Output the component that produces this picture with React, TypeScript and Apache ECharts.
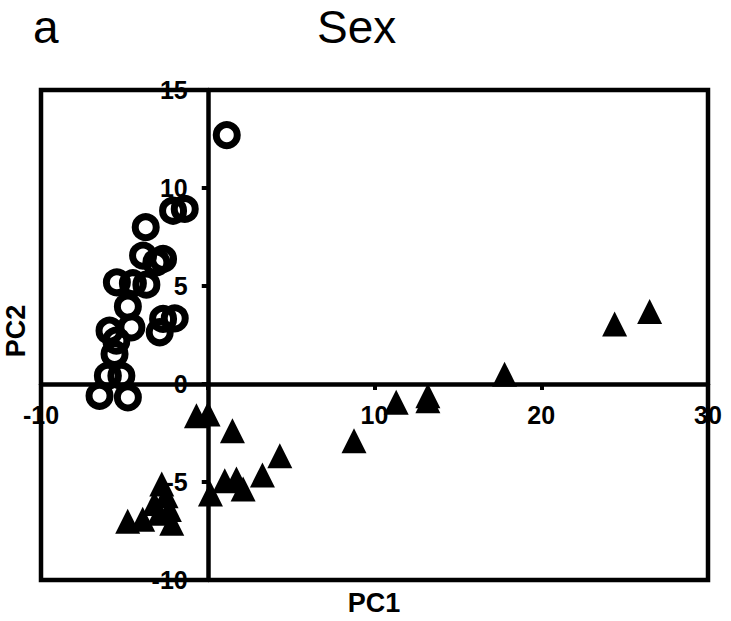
import React, { useEffect, useRef } from "react";
import * as echarts from "echarts";

const panelLabel = "a";
const chartTitle = "Sex";
const xName = "PC1";
const yName = "PC2";

const xTicks = { min: -10, max: 30, interval: 10 };
const yTicks = { min: -10, max: 15, interval: 5 };

// Hollow circles (one sex)
const circleX = [1.14, -1.38, -2.08, -3.72, -3.88, -2.68, -3.08, -5.45, -4.49, -3.68, -4.79, -2.68, -1.98, -2.88, -4.58, -5.89, -5.48, -5.59, -5.99, -5.18, -6.49, -4.79];
const circleY = [12.7, 8.93, 8.84, 8.0, 6.55, 6.38, 6.2, 5.19, 5.14, 5.07, 3.95, 3.32, 3.35, 2.64, 2.89, 2.72, 2.21, 1.53, 0.42, 0.42, -0.6, -0.68];

// Filled triangles (other sex)
const triX = [26.5, 24.4, 17.8, 13.2, 13.2, 11.3, 8.77, 4.32, 3.28, 1.02, 1.72, 2.12, 0.16, 1.48, 0.02, -0.68, -4.8, -3.9, -3.2, -2.76, -2.5, -2.3, -2.16, -2.9];
const triY = [3.7, 3.06, 0.5, -0.6, -0.85, -0.93, -2.89, -3.66, -4.64, -4.93, -4.85, -5.36, -5.61, -2.38, -1.53, -1.62, -7.0, -6.9, -6.1, -5.1, -5.7, -6.4, -7.1, -6.6];

const zip = (xs: number[], ys: number[]) => xs.map((x, i) => [x, ys[i]]);

const W = 731;
const H = 621;
const GRID = { left: 41, right: 23, top: 90, bottom: 41 };

export default function App() {
  const ref = useRef<HTMLDivElement>(null);
  useEffect(() => {
    document.body.style.margin = "0";
    if (!ref.current) return;
    const chart = echarts.init(ref.current, undefined, { renderer: "svg" });
    const font = "Liberation Sans";
    const gw = W - GRID.left - GRID.right;
    const gh = H - GRID.top - GRID.bottom;
    // place axes on the zero lines via offsets
    const yAxisOffset = -gw * ((0 - xTicks.min) / (xTicks.max - xTicks.min));
    const xAxisOffset = -gh * ((0 - yTicks.min) / (yTicks.max - yTicks.min));
    chart.setOption({
      animation: false,
      backgroundColor: "#fff",
      textStyle: { fontFamily: font },
      grid: {
        ...GRID,
        show: true,
        borderColor: "#000",
        borderWidth: 4.5,
        backgroundColor: "transparent",
        containLabel: false,
        outerBoundsMode: "none",
      },
      xAxis: {
        type: "value",
        position: "bottom",
        offset: xAxisOffset,
        min: xTicks.min,
        max: xTicks.max,
        interval: xTicks.interval,
        axisLine: { show: true, onZero: false, lineStyle: { color: "#000", width: 4.5 } },
        axisTick: { show: true, length: 6, lineStyle: { color: "#000", width: 4 } },
        axisLabel: {
          show: true,
          margin: 18,
          color: "#000",
          fontSize: 25,
          fontWeight: 700,
          fontFamily: font,
          showMinLabel: true,
          showMaxLabel: true,
          hideOverlap: false,
          formatter: (v: number) => (v === 0 ? "" : String(v)),
        },
        splitLine: { show: false },
      },
      yAxis: {
        type: "value",
        position: "left",
        offset: yAxisOffset,
        min: yTicks.min,
        max: yTicks.max,
        interval: yTicks.interval,
        axisLine: { show: true, onZero: false, lineStyle: { color: "#000", width: 4.5 } },
        axisTick: { show: true, length: 6, lineStyle: { color: "#000", width: 4 } },
        axisLabel: {
          show: true,
          margin: 20,
          color: "#000",
          fontSize: 25,
          fontWeight: 700,
          fontFamily: font,
          showMinLabel: true,
          showMaxLabel: true,
          hideOverlap: false,
        },
        splitLine: { show: false },
      },
      graphic: [
        {
          type: "text",
          left: 33,
          top: 4,
          style: { text: panelLabel, fontSize: 46, fontFamily: font, fill: "#000" },
        },
        {
          type: "text",
          left: 317,
          top: 4,
          style: { text: chartTitle, fontSize: 46, fontFamily: font, fill: "#000" },
        },
        {
          type: "text",
          x: 374,
          y: 603,
          style: {
            text: xName,
            fontSize: 27,
            fontWeight: 700,
            fontFamily: font,
            fill: "#000",
            align: "center",
            verticalAlign: "middle",
          },
        },
        {
          type: "text",
          x: 16,
          y: 331,
          rotation: Math.PI / 2,
          style: {
            text: yName,
            fontSize: 27,
            fontWeight: 700,
            fontFamily: font,
            fill: "#000",
            align: "center",
            verticalAlign: "middle",
          },
        },
      ],
      series: [
        {
          type: "scatter",
          name: "circles",
          data: zip(circleX, circleY),
          symbol: "circle",
          symbolSize: 21,
          itemStyle: { color: "transparent", borderColor: "#000", borderWidth: 7, opacity: 1 },
          z: 3,
        },
        {
          type: "scatter",
          name: "triangles",
          data: zip(triX, triY),
          symbol: "triangle",
          symbolSize: 25,
          itemStyle: { color: "#000", opacity: 1 },
          z: 3,
        },
      ],
    });
    return () => chart.dispose();
  }, []);
  return (
    <div
      ref={ref}
      style={{ width: W, height: H, position: "fixed", left: 0, top: 0, background: "#fff" }}
    />
  );
}
